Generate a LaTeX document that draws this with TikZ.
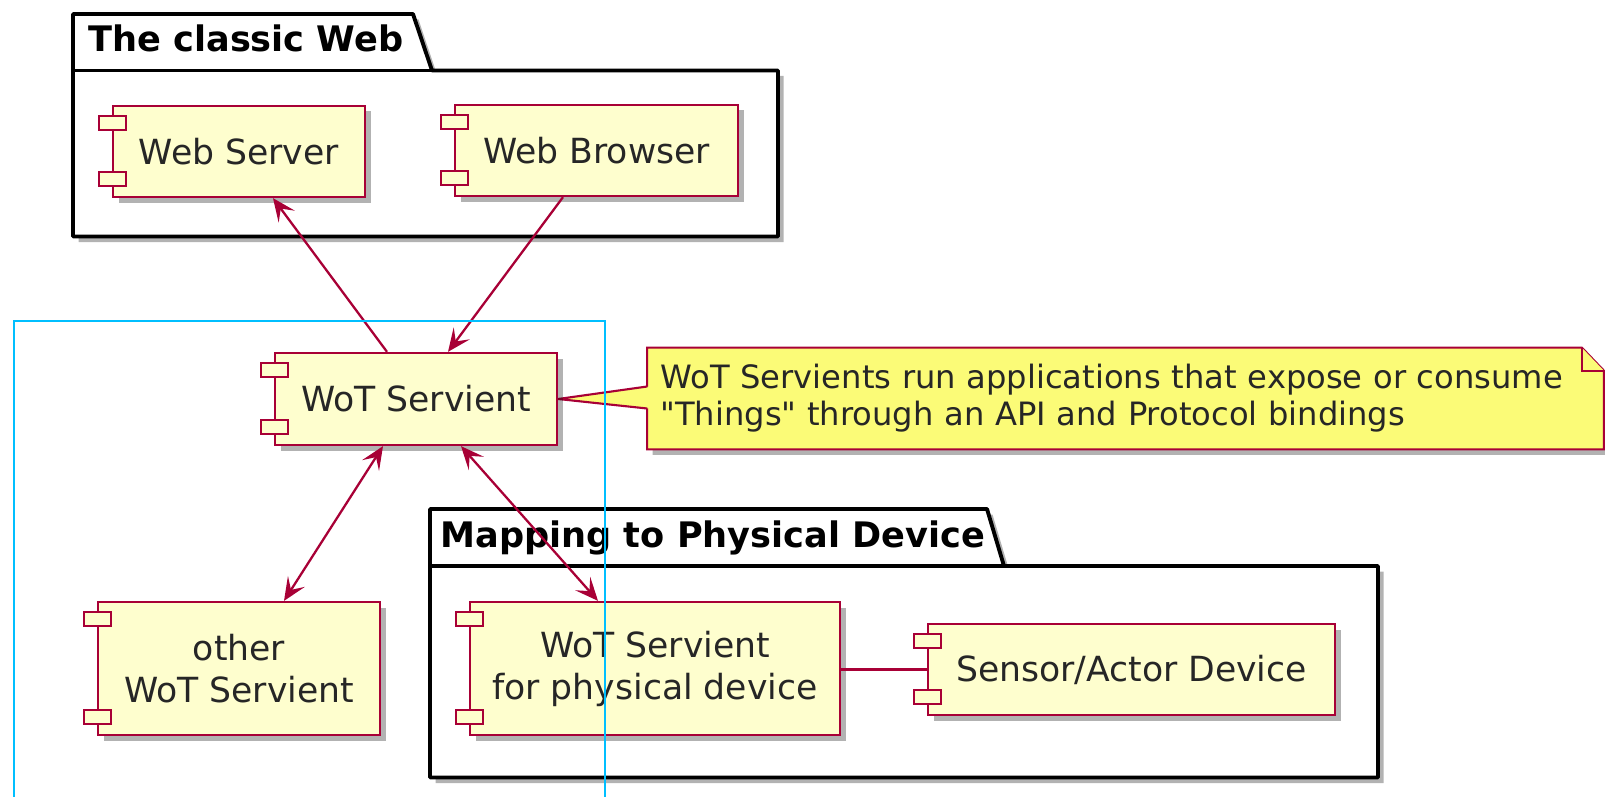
\documentclass[tikz,border=0pt]{standalone}
\usepackage{fontspec}
\setmainfont{DejaVu Sans}[Ligatures=TeXOff]
\usetikzlibrary{arrows.meta,shadows}
\pgfdeclarelayer{background}
\pgfsetlayers{background,main}
\definecolor{plumred}{HTML}{A80036}
\definecolor{compfill}{HTML}{FEFECE}
\definecolor{notefill}{HTML}{FBFB77}
\definecolor{skyline}{HTML}{00BFFF}
\tikzset{
  softshadow/.style={drop shadow={shadow xshift=0.11cm, shadow yshift=-0.11cm, fill=black, opacity=0.3}},
  comp/.style={draw=plumred, fill=compfill, line width=1.3pt, align=center, inner sep=0pt,
    font=\fontsize{19.7}{23.9}\selectfont, text=black!85, softshadow},
  plug/.style={draw=plumred, fill=compfill, line width=1.2pt},
  pkg/.style={draw=black, fill=white, line width=2.2pt, line join=round, softshadow},
  pkgtitle/.style={font=\bfseries\fontsize{20}{23}\selectfont, inner sep=0pt},
  notebox/.style={draw=plumred, fill=notefill, line width=1.2pt, line join=miter},
  notetext/.style={align=left, text width=18.6cm, inner sep=0.26cm, minimum height=2.02cm,
    font=\fontsize{18.3}{21}\selectfont, text=black!85},
  link/.style={draw=plumred, line width=1.3pt},
  tip/.tip={Stealth[length=0.46cm, width=0.4cm, inset=0.2cm]},
  group/.style={draw=skyline, line width=1.4pt},
}
\begin{document}
\begin{tikzpicture}
\useasboundingbox (0,0) rectangle (32.1,15.92);
\draw[pkg] (1.460,15.640) -- (8.260,15.640) -- (8.640,14.510) -- (15.560,14.510) -- (15.560,11.190) -- (1.460,11.190) -- cycle;
\draw[line width=2.2pt] (1.460,14.510) -- (8.640,14.510);
\node[pkgtitle, anchor=base west] (webtitle) at (1.760,14.880) {The classic Web};
\draw[pkg] (8.600,5.740) -- (19.740,5.740) -- (20.080,4.600) -- (27.560,4.600) -- (27.560,0.370) -- (8.600,0.370) -- cycle;
\draw[line width=2.2pt] (8.600,4.600) -- (20.080,4.600);
\node[pkgtitle, anchor=base west] (maptitle) at (8.800,4.980) {Mapping to Physical Device};
\node[comp, minimum width=5.04cm, minimum height=1.82cm] (server) at (4.780,12.890) {Web Server};
\node[comp, minimum width=5.66cm, minimum height=1.82cm] (browser) at (11.930,12.910) {Web Browser};
\node[comp, minimum width=5.64cm, minimum height=1.84cm] (servient) at (8.320,7.940) {WoT Servient};
\node[comp, minimum width=5.64cm, minimum height=2.66cm] (other) at (4.780,2.550) {other\\WoT Servient};
\node[comp, minimum width=7.40cm, minimum height=2.66cm] (phys) at (13.100,2.550) {WoT Servient\\for physical device};
\node[comp, minimum width=8.14cm, minimum height=1.82cm] (sensor) at (22.630,2.530) {Sensor/Actor Device};
\foreach \c in {server,browser,servient,other,phys,sensor}{
  \draw[plug] ([shift={(-0.25,-0.22)}]\c.north west) rectangle ++(0.53,-0.28);
  \draw[plug] ([shift={(-0.25,0.24)}]\c.south west) rectangle ++(0.53,0.28);
}
\draw[link, -tip] ([xshift=-0.58cm]servient.north) -- ([xshift=0.68cm]server.south);
\draw[link, -tip] ([xshift=-0.67cm]browser.south) -- ([xshift=0.64cm]servient.north);
\draw[link, tip-tip] ([xshift=-0.66cm]servient.south) -- ([xshift=0.90cm]other.north);
\draw[link, tip-tip] ([xshift=0.90cm]servient.south) -- ([xshift=-1.14cm]phys.north);
\draw[link] (sensor.west -| phys.east) -- (sensor.west);
\node[notetext] (note) at (22.510,7.950) {WoT Servients run applications that expose or consume\\"Things" through an API and Protocol bindings};
\begin{pgfonlayer}{background}
\draw[notebox, softshadow] (note.north west) -- ([xshift=-0.44cm]note.north east) -- ([yshift=-0.46cm]note.north east) -- (note.south east) -- (note.south west) -- cycle;
\draw[notebox] ([xshift=-0.44cm]note.north east) |- ([yshift=-0.46cm]note.north east);
\fill[notefill] ([shift={(0.05,0.24)}]note.west) -- (servient.east) -- ([shift={(0.05,-0.20)}]note.west) -- cycle;
\draw[notebox, fill=none] ([yshift=0.24cm]note.west) -- (servient.east) -- ([yshift=-0.20cm]note.west);
\end{pgfonlayer}
\draw[group] (0.280,-0.200) |- (12.100,9.500) -- (12.100,-0.200);
\end{tikzpicture}
\end{document}
